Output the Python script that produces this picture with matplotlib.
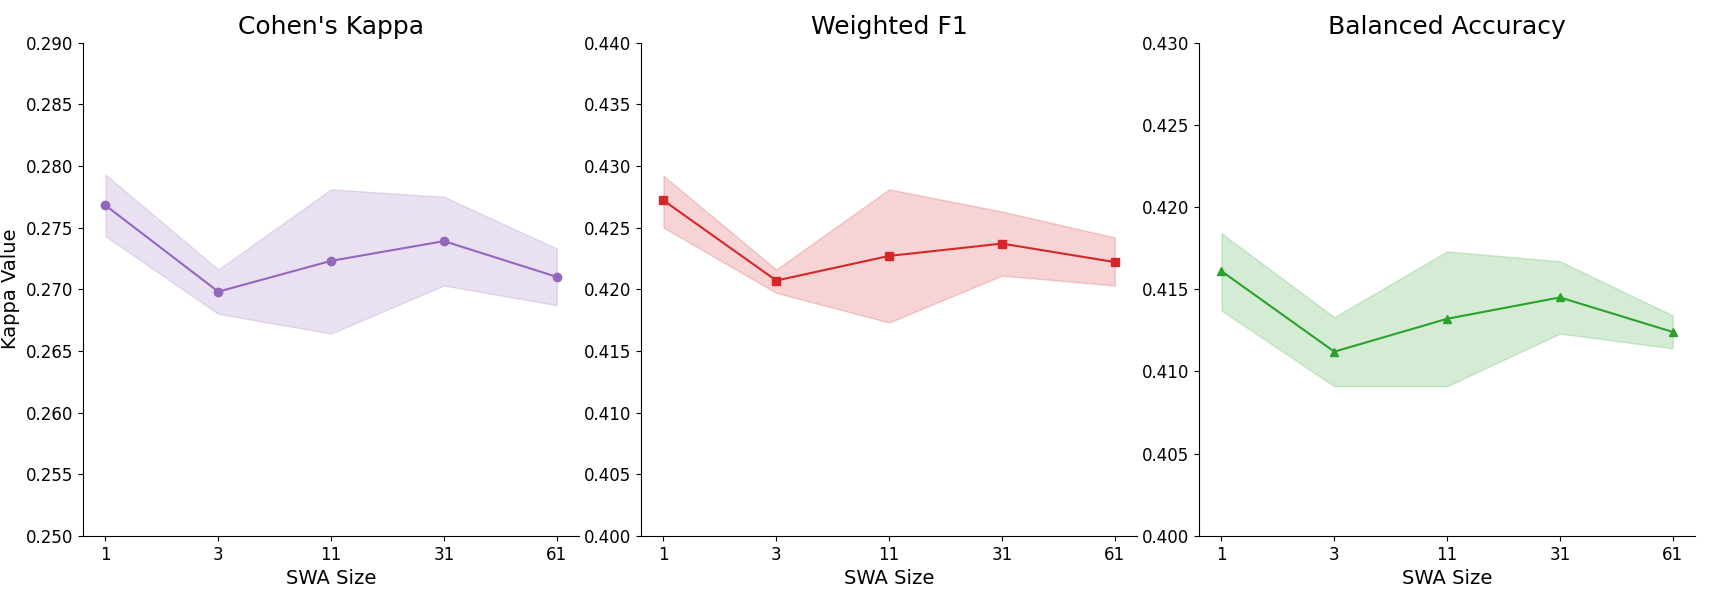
import matplotlib.pyplot as plt
import numpy as np

swa_sizes = ['1', '3', '11', '31', '61']

kappa_mean = [0.2768, 0.2698, 0.2723, 0.2739, 0.2710]
kappa_upper = [0.2793, 0.2716, 0.2781, 0.2775, 0.2733]
kappa_lower = [0.2743, 0.2680, 0.2664, 0.2703, 0.2687]

f1_mean = [0.4272, 0.4207, 0.4227, 0.4237, 0.4222]
f1_upper = [0.4292, 0.4216, 0.4281, 0.4263, 0.4242]
f1_lower = [0.4250, 0.4197, 0.4173, 0.4211, 0.4203]

bacc_mean = [0.4161, 0.4112, 0.4132, 0.4145, 0.4124]
bacc_upper = [0.4184, 0.4133, 0.4173, 0.4167, 0.4134]
bacc_lower = [0.4137, 0.4091, 0.4091, 0.4123, 0.4114]

panels = [
    ("Cohen's Kappa", kappa_mean, kappa_lower, kappa_upper, 'tab:purple', 'o', (0.250, 0.290)),
    ("Weighted F1", f1_mean, f1_lower, f1_upper, 'tab:red', 's', (0.400, 0.440)),
    ("Balanced Accuracy", bacc_mean, bacc_lower, bacc_upper, 'tab:green', '^', (0.400, 0.430)),
]

x = np.arange(len(swa_sizes))

fig, axes = plt.subplots(1, 3, figsize=(17.09, 6), dpi=100)
for ax, (title, mean, lo, hi, color, marker, ylim) in zip(axes, panels):
    ax.plot(x, mean, marker=marker, color=color)
    ax.fill_between(x, lo, hi, color=color, alpha=0.2)
    ax.set_title(title, fontsize=18)
    ax.set_xlabel('SWA Size', fontsize=14)
    ax.set_xticks(x)
    ax.set_xticklabels(swa_sizes)
    ax.set_ylim(*ylim)
    ax.tick_params(labelsize=12)
    ax.spines['top'].set_visible(False)
    ax.spines['right'].set_visible(False)

axes[0].set_ylabel('Kappa Value', fontsize=14)
plt.subplots_adjust(left=0.0485, right=0.992, top=0.929, bottom=0.107, wspace=0.124)
plt.savefig('out.png', dpi=100)
